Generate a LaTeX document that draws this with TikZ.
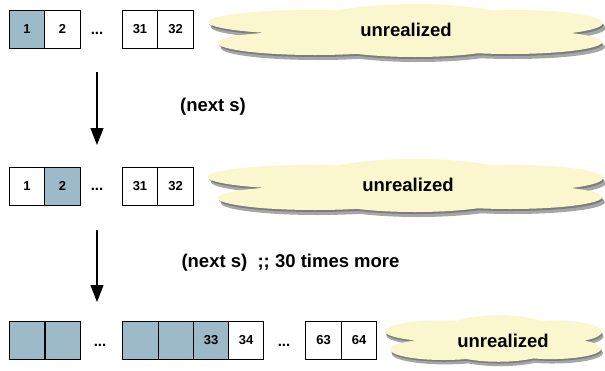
\documentclass[tikz,border=0pt]{standalone}
\usepackage{fontspec}
\setmainfont{Liberation Sans}
\usetikzlibrary{arrows.meta}

\definecolor{cellblue}{RGB}{157,186,200}
\definecolor{cloudyellow}{RGB}{250,246,205}

% lobes of the cloud, drawn round (0,0)
\newcommand{\cloudlobes}{
  (-95,-8) ellipse [x radius=102, y radius=12]
  (-90,13) ellipse [x radius=97, y radius=12]
  (10,-8) ellipse [x radius=100, y radius=18]
  (10,12) ellipse [x radius=95, y radius=15]
  (110,-7) ellipse [x radius=88, y radius=13]
  (105,12) ellipse [x radius=92, y radius=12]
  (0,2) ellipse [x radius=140, y radius=14]
}

\tikzset{
  cell/.style={draw, line width=0.8pt, minimum width=35.5pt, minimum height=38pt,
    inner sep=0pt, font=\fontsize{13}{15}\selectfont\bfseries},
  done/.style={cell, fill=cellblue},
  dots/.style={font=\fontsize{15}{17}\selectfont\bfseries},
  lazy text/.style={font=\fontsize{18.5}{21}\selectfont\bfseries},
  step label/.style={font=\fontsize{18.5}{21}\selectfont\bfseries},
  pics/lazy cloud/.style={code={
    \begin{scope}[transparency group, opacity=0.25]
      \fill[black, shift={(1,2)}] \cloudlobes;
    \end{scope}
    \begin{scope}[transparency group, opacity=0.35]
      \fill[black, shift={(3,5)}] \cloudlobes;
    \end{scope}
    \fill[cloudyellow] \cloudlobes;
  }}
}

\begin{document}
\begin{tikzpicture}[x=1pt, y=-1pt]
\useasboundingbox (0,0) rectangle (605,370);

% before
\node[done] (a1) at (27,29) {1};
\node[cell] (a2) at (62.5,29) {2};
\node[dots] (ad) at (97,33) {...};
\node[cell] (a31) at (140,29) {31};
\node[cell] (a32) at (175.5,29) {32};
\pic at (405,30) {lazy cloud};
\node[lazy text] (ac) at (406,30) {unrealized};

% after one step
\node[cell] (b1) at (27,186) {1};
\node[done] (b2) at (62.5,186) {2};
\node[dots] (bd) at (97,189) {...};
\node[cell] (b31) at (140,186) {31};
\node[cell] (b32) at (175.5,186) {32};
\pic at (405,185) {lazy cloud};
\node[lazy text] (bc) at (408,185) {unrealized};

% after 32 steps
\node[done] (c1) at (27,340) {};
\node[done] (c2) at (63,340) {};
\node[dots] (cd) at (100,345) {...};
\node[done] (c31) at (140.5,340) {};
\node[done] (c32) at (176,340) {};
\node[done] (c33) at (211,340) {33};
\node[cell] (c34) at (246,340) {34};
\node[dots] (ce) at (284,345) {...};
\node[cell] (c63) at (323.5,340) {63};
\node[cell] (c64) at (359,340) {64};
\pic[xscale=0.55, yscale=0.88] at (493,338) {lazy cloud};
\node[lazy text] (cc) at (503,341) {unrealized};

% steps
\coordinate (s1) at (97,72);
\coordinate (e1) at (97,145);
\coordinate (s2) at (97,230);
\coordinate (e2) at (97,302);
\draw[line width=1.3pt, -{Triangle[width=13pt,length=17pt]}] (s1) -- (e1);
\draw[line width=1.3pt, -{Triangle[width=13pt,length=17pt]}] (s2) -- (e2);
\node[step label] (l1) at (213,107) {(next s)};
\node[step label, anchor=west] (l2) at (178,263) {(next s)\ \ ;; 30 times more};
\end{tikzpicture}
\end{document}
